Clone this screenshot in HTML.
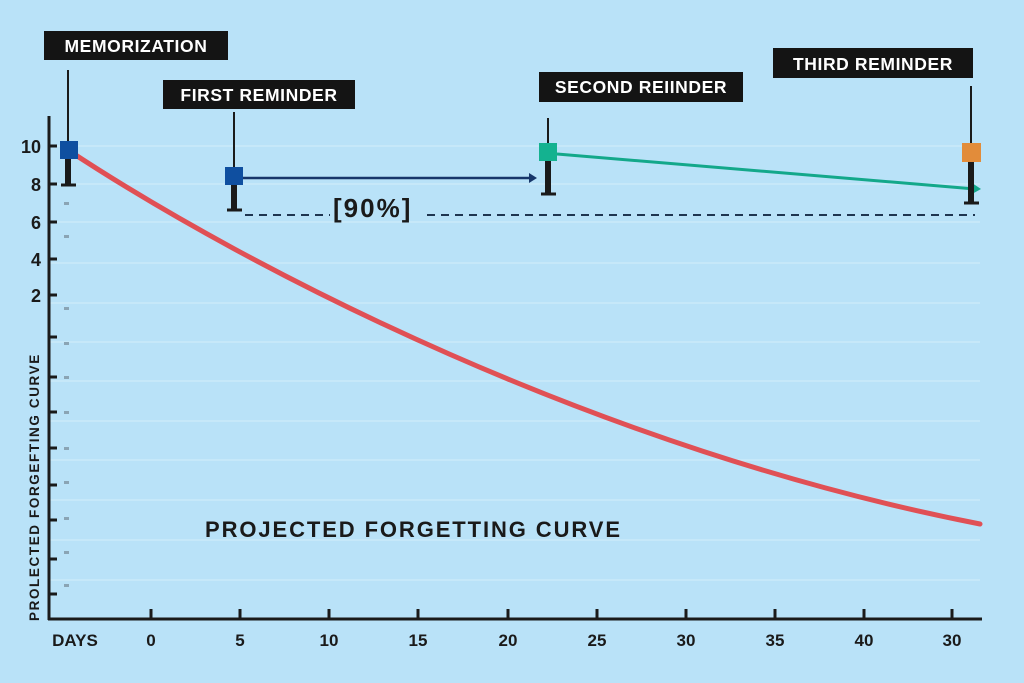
<!DOCTYPE html>
<html><head><meta charset="utf-8"><style>
html,body{margin:0;padding:0;background:#b9e2f8;}
svg{display:block;font-family:"Liberation Sans",sans-serif;font-weight:bold;}
</style></head><body>
<svg width="1024" height="683" viewBox="0 0 1024 683">
<rect width="1024" height="683" fill="#b9e2f8"/>
<g stroke="#cbe9f9" stroke-width="1.5">
<line x1="50" y1="146" x2="980" y2="146"/><line x1="50" y1="184" x2="980" y2="184"/>
<line x1="50" y1="222" x2="980" y2="222"/><line x1="50" y1="263" x2="980" y2="263"/>
<line x1="50" y1="303" x2="980" y2="303"/><line x1="50" y1="342" x2="980" y2="342"/>
<line x1="50" y1="381" x2="980" y2="381"/><line x1="50" y1="421" x2="980" y2="421"/>
<line x1="50" y1="460" x2="980" y2="460"/><line x1="50" y1="500" x2="980" y2="500"/>
<line x1="50" y1="540" x2="980" y2="540"/><line x1="50" y1="580" x2="980" y2="580"/>
</g>
<g fill="#8aa4b4">
<rect x="64" y="202" width="5" height="3"/><rect x="64" y="235" width="5" height="3"/>
<rect x="64" y="307" width="5" height="3"/><rect x="64" y="342" width="5" height="3"/>
<rect x="64" y="376" width="5" height="3"/><rect x="64" y="411" width="5" height="3"/>
<rect x="64" y="447" width="5" height="3"/><rect x="64" y="481" width="5" height="3"/>
<rect x="64" y="517" width="5" height="3"/><rect x="64" y="551" width="5" height="3"/>
<rect x="64" y="584" width="5" height="3"/>
</g>
<g stroke="#1a1a1a" stroke-width="3">
<line x1="49" y1="116" x2="49" y2="620"/><line x1="48" y1="619" x2="982" y2="619"/>
<line x1="49" y1="146" x2="57" y2="146"/><line x1="49" y1="184" x2="57" y2="184"/>
<line x1="49" y1="222" x2="57" y2="222"/><line x1="49" y1="259" x2="57" y2="259"/>
<line x1="49" y1="295" x2="57" y2="295"/><line x1="49" y1="337" x2="57" y2="337"/>
<line x1="49" y1="377" x2="57" y2="377"/><line x1="49" y1="412" x2="57" y2="412"/>
<line x1="49" y1="448" x2="57" y2="448"/><line x1="49" y1="485" x2="57" y2="485"/>
<line x1="49" y1="520" x2="57" y2="520"/><line x1="49" y1="559" x2="57" y2="559"/>
<line x1="49" y1="594" x2="57" y2="594"/>
<line x1="151" y1="609" x2="151" y2="619"/><line x1="240" y1="609" x2="240" y2="619"/>
<line x1="329" y1="609" x2="329" y2="619"/><line x1="418" y1="609" x2="418" y2="619"/>
<line x1="508" y1="609" x2="508" y2="619"/><line x1="597" y1="609" x2="597" y2="619"/>
<line x1="686" y1="609" x2="686" y2="619"/><line x1="775" y1="609" x2="775" y2="619"/>
<line x1="864" y1="609" x2="864" y2="619"/><line x1="952" y1="609" x2="952" y2="619"/>
</g>
<g font-size="18" fill="#1a1a1a" text-anchor="end">
<text x="41" y="153">10</text><text x="41" y="191">8</text><text x="41" y="229">6</text>
<text x="41" y="266">4</text><text x="41" y="302">2</text>
</g>
<g font-size="17" fill="#1a1a1a" text-anchor="middle">
<text x="75" y="646">DAYS</text><text x="151" y="646">0</text><text x="240" y="646">5</text>
<text x="329" y="646">10</text><text x="418" y="646">15</text><text x="508" y="646">20</text>
<text x="597" y="646">25</text><text x="686" y="646">30</text><text x="775" y="646">35</text>
<text x="864" y="646">40</text><text x="952" y="646">30</text>
</g>
<text transform="translate(39,621) rotate(-90)" font-size="13.5" fill="#1a1a1a" letter-spacing="1.6">PROLECTED FORGEFTING CURVE</text>
<text x="205" y="537" font-size="22" fill="#1a1a1a" letter-spacing="1.9">PROJECTED FORGETTING CURVE</text>
<g stroke="#1e3550" stroke-width="2" stroke-dasharray="8,6">
<line x1="245" y1="215" x2="330" y2="215"/><line x1="427" y1="215" x2="975" y2="215"/>
</g>
<text x="333" y="217" font-size="26" fill="#1a1a1a" letter-spacing="2">[90%]</text>
<path d="M68,150 C250,270 600,450 980,524" fill="none" stroke="#e05055" stroke-width="5" stroke-linecap="round"/>
<line x1="243" y1="178" x2="530" y2="178" stroke="#17366a" stroke-width="2.5"/>
<polygon points="529,173 537,178 529,183" fill="#17366a"/>
<line x1="557" y1="154" x2="975" y2="189" stroke="#13a88a" stroke-width="3"/>
<polygon points="972,183 981,189 972,194" fill="#13a88a"/>
<g stroke="#1a1a1a">
<line x1="68" y1="70" x2="68" y2="185" stroke-width="2"/><line x1="68" y1="155" x2="68" y2="185" stroke-width="6"/><line x1="61" y1="185" x2="76" y2="185" stroke-width="3"/>
<line x1="234" y1="112" x2="234" y2="210" stroke-width="2"/><line x1="234" y1="180" x2="234" y2="210" stroke-width="6"/><line x1="227" y1="210" x2="242" y2="210" stroke-width="3"/>
<line x1="548" y1="118" x2="548" y2="194" stroke-width="2"/><line x1="548" y1="158" x2="548" y2="194" stroke-width="6"/><line x1="541" y1="194" x2="556" y2="194" stroke-width="3"/>
<line x1="971" y1="86" x2="971" y2="203" stroke-width="2"/><line x1="971" y1="160" x2="971" y2="203" stroke-width="6"/><line x1="964" y1="203" x2="979" y2="203" stroke-width="3"/>
</g>
<rect x="60" y="141" width="18" height="18" fill="#0f4fa0"/>
<rect x="225" y="167" width="18" height="18" fill="#0f4fa0"/>
<rect x="539" y="143" width="18" height="18" fill="#14b290"/>
<rect x="962" y="143" width="19" height="19" fill="#e28c3a"/>
<g fill="#141414">
<rect x="44" y="31" width="184" height="29"/><rect x="163" y="80" width="192" height="29"/>
<rect x="539" y="72" width="204" height="30"/><rect x="773" y="48" width="200" height="30"/>
</g>
<g fill="#fff" font-size="17.5" text-anchor="middle" letter-spacing="0.6">
<text x="136" y="52">MEMORIZATION</text><text x="259" y="101">FIRST REMINDER</text>
<text x="641" y="93">SECOND REIINDER</text><text x="873" y="70">THIRD REMINDER</text>
</g>
</svg>
</body></html>
